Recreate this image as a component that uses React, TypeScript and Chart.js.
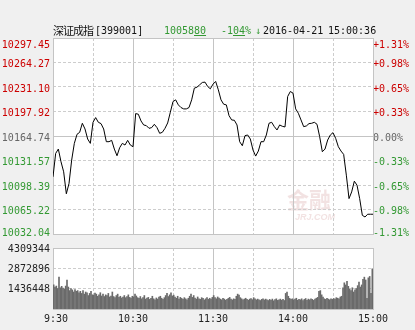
import React, { useEffect, useRef } from 'react';
import { Chart, registerables } from 'chart.js';

Chart.register(...registerables);

// ---------- data ----------
const PREV_CLOSE = 10164.74;
const PRICE_STEP_MIN = 2; // one price sample every 2 minutes, 9:30 .. 15:00 (240 trading minutes)

const priceTicks = [10032.04, 10065.22, 10098.39, 10131.57, 10164.74, 10197.92, 10231.10, 10264.27, 10297.45];
const priceTickLabels = ['10032.04', '10065.22', '10098.39', '10131.57', '10164.74', '10197.92', '10231.10', '10264.27', '10297.45'];
const pctTickLabels = ['-1.31%', '-0.98%', '-0.65%', '-0.33%', '0.00%', '+0.33%', '+0.65%', '+0.98%', '+1.31%'];

const timeTickMinutes = [0, 60, 120, 180, 240];
const timeTickLabels = [' 9:30', '10:30', '11:30', '14:00', '15:00'];

const volTicks = [1436448, 2872896, 4309344];
const volTickLabels = ['1436448', '2872896', '4309344'];

const prices = [
  10109.45, 10141.17, 10147.07, 10129.84, 10116.25, 10086.50, 10100.39, 10132.11, 10154.77, 10167.01,
  10169.73, 10181.96, 10174.26, 10160.66, 10154.77, 10183.32, 10189.67, 10183.32, 10181.51, 10174.26,
  10157.04, 10157.04, 10158.85, 10147.07, 10138.00, 10148.88, 10154.77, 10152.50, 10158.85, 10152.50,
  10150.24, 10195.10, 10194.20, 10185.13, 10179.70, 10178.79, 10175.16, 10176.07, 10180.60, 10176.07,
  10168.37, 10169.73, 10175.16, 10182.41, 10196.92, 10211.42, 10213.69, 10206.89, 10203.26, 10201.45,
  10201.45, 10203.26, 10213.69, 10229.55, 10230.91, 10234.08, 10237.25, 10237.71, 10231.81, 10228.64,
  10234.99, 10238.61, 10227.28, 10213.69, 10207.79, 10206.89, 10192.39, 10186.49, 10186.04, 10179.70,
  10157.04, 10151.60, 10165.19, 10166.10, 10160.66, 10145.71, 10137.55, 10144.35, 10157.04, 10157.04,
  10166.10, 10181.96, 10183.32, 10177.43, 10172.90, 10179.70, 10177.88, 10176.98, 10218.22, 10225.02,
  10222.75, 10201.45, 10195.56, 10186.49, 10177.43, 10178.34, 10181.51, 10181.96, 10183.32, 10180.60,
  10163.83, 10143.44, 10147.07, 10159.30, 10166.10, 10169.27, 10161.57, 10150.24, 10144.35, 10139.81,
  10111.72, 10079.99, 10089.06, 10103.56, 10098.12, 10079.99, 10057.33, 10055.07, 10058.80, 10058.80,
  10058.80,
];

const volumes = [
  1700000, 1550000, 1620000, 1450000, 2250000, 1500000, 1600000, 1480000, 1400000, 1620000,
  2050000, 1550000, 1300000, 1450000, 1350000, 1200000, 1380000, 1250000, 1300000, 1150000,
  1250000, 1100000, 1300000, 1050000, 1200000, 1150000, 950000, 1100000, 1250000, 1000000,
  980000, 1120000, 1050000, 900000, 1000000, 1150000, 920000, 1050000, 880000, 1000000,
  950000, 1100000, 850000, 920000, 1200000, 880000, 800000, 950000, 1050000, 820000,
  900000, 780000, 850000, 950000, 800000, 880000, 1000000, 820000, 780000, 900000,
  850000, 1050000, 920000, 800000, 760000, 880000, 720000, 800000, 950000, 700000,
  780000, 820000, 680000, 750000, 900000, 720000, 650000, 780000, 700000, 850000,
  900000, 760000, 680000, 800000, 950000, 1100000, 880000, 1000000, 1150000, 920000,
  980000, 850000, 760000, 900000, 700000, 820000, 750000, 680000, 800000, 720000,
  650000, 760000, 900000, 1050000, 820000, 950000, 780000, 700000, 850000, 720000,
  680000, 800000, 750000, 640000, 720000, 800000, 680000, 760000, 700000, 820000,
  950000, 800000, 720000, 850000, 780000, 700000, 650000, 760000, 700000, 620000,
  680000, 750000, 820000, 700000, 640000, 720000, 680000, 900000, 1050000, 980000,
  800000, 720000, 650000, 700000, 760000, 680000, 620000, 700000, 740000, 660000,
  800000, 720000, 640000, 700000, 650000, 600000, 680000, 720000, 640000, 700000,
  640000, 600000, 680000, 620000, 700000, 580000, 660000, 720000, 610000, 650000,
  700000, 620000, 680000, 600000, 1100000, 1200000, 900000, 750000, 680000, 720000,
  640000, 700000, 760000, 620000, 680000, 650000, 720000, 600000, 680000, 740000,
  620000, 700000, 650000, 720000, 680000, 610000, 700000, 760000, 820000, 1250000,
  1300000, 1000000, 850000, 720000, 680000, 760000, 700000, 650000, 720000, 680000,
  740000, 700000, 800000, 760000, 720000, 850000, 900000, 1500000, 1850000, 1700000,
  1950000, 1600000, 1400000, 1300000, 1500000, 1200000, 1350000, 1450000, 1650000, 1900000,
  1550000, 1700000, 2100000, 2250000, 2050000, 750000, 2200000, 2300000, 1100000, 2830000,
];

// header texts
const INDEX_NAME = '深证成指';
const INDEX_CODE = '[399001]';
const LAST_INT = '10058';
const LAST_DEC = '80';
const CHG_INT = '-1';
const CHG_DEC = '04';
const CHG_UNIT = '%';
const ARROW = '↓';
const DATE_TEXT = '2016-04-21';
const TIME_TEXT = '15:00:36';
const WATERMARK = '金融';
const WATERMARK_SUB = 'JRJ.COM';

// ---------- styles ----------
const BG = '#f0f0f0';
const PLOT_BG = '#ffffff';
const RED = '#cc0000';
const GREEN = '#339933';
const GRAY = '#666666';
const GRID_SOLID = '#c4c4c4';
const GRID_DASH = '#cdcdcd';
const FONT = '"DejaVu Sans Mono", monospace';
const CJK = '"Noto Sans CJK SC", sans-serif';
const TOTAL_MIN = 240;

const drawGrid = (chart: any, xVals: number[], yVals: number[], ySolid: (v: number) => boolean) => {
  const { ctx, chartArea: a, scales } = chart;
  const xs = scales.x;
  const ys = scales.y;
  ctx.save();
  ctx.lineWidth = 1;
  xVals.forEach((m) => {
    const px = Math.floor(xs.getPixelForValue(m)) + 0.5;
    const solid = m % 60 === 0;
    ctx.strokeStyle = solid ? GRID_SOLID : GRID_DASH;
    ctx.setLineDash(solid ? [] : [3, 2]);
    ctx.beginPath();
    ctx.moveTo(px, a.top);
    ctx.lineTo(px, a.bottom);
    ctx.stroke();
  });
  yVals.forEach((v) => {
    const py = Math.floor(ys.getPixelForValue(v)) + 0.5;
    const solid = ySolid(v);
    ctx.strokeStyle = solid ? GRID_SOLID : GRID_DASH;
    ctx.setLineDash(solid ? [] : [3, 2]);
    ctx.beginPath();
    ctx.moveTo(a.left, py);
    ctx.lineTo(a.right, py);
    ctx.stroke();
  });
  ctx.setLineDash([]);
  ctx.strokeStyle = GRID_SOLID;
  ctx.strokeRect(a.left + 0.5, a.top + 0.5, a.right - a.left, a.bottom - a.top);
  ctx.restore();
};

const plotBgPlugin = {
  id: 'plotBg',
  beforeDraw(chart: any) {
    const { ctx, chartArea: a } = chart;
    ctx.save();
    ctx.fillStyle = PLOT_BG;
    ctx.fillRect(a.left, a.top, a.right - a.left, a.bottom - a.top);
    ctx.restore();
  },
};

const priceGridPlugin = {
  id: 'priceGrid',
  beforeDatasetsDraw(chart: any) {
    const { ctx, chartArea: a } = chart;
    ctx.save();
    ctx.fillStyle = 'rgba(210,150,150,0.28)';
    ctx.font = `bold 22px ${CJK}`;
    ctx.textBaseline = 'alphabetic';
    ctx.fillText(WATERMARK, a.left + 234, a.top + 170);
    ctx.font = `bold italic 9px "Liberation Sans", sans-serif`;
    ctx.fillText(WATERMARK_SUB, a.left + 242, a.top + 182);
    ctx.restore();
    drawGrid(chart, [30, 60, 90, 120, 150, 180, 210], priceTicks.slice(1, -1), (v) => v === PREV_CLOSE);
  },
};

const volGridPlugin = {
  id: 'volGrid',
  beforeDatasetsDraw(chart: any) {
    drawGrid(chart, [30, 60, 90, 120, 150, 180, 210], volTicks.slice(0, -1), () => false);
  },
};

const tickColor = (v: number) => (v > PREV_CLOSE + 0.001 ? RED : v < PREV_CLOSE - 0.001 ? GREEN : GRAY);

// keep the outermost labels inside the plot, like the original terminal does
const fixV = (w: number, shiftEnds: boolean) => (s: any) => {
  s.width = w;
  s.paddingTop = 0;
  s.paddingBottom = 0;
  if (shiftEnds && !s.__wrapped) {
    s.__wrapped = true;
    const orig = s._computeLabelItems;
    s._computeLabelItems = function (ca: any) {
      const items = orig.call(this, ca);
      if (items && items.length > 1) {
        const last = items[items.length - 1];
        const first = items[0];
        if (last.options && last.options.translation) last.options.translation[1] += 5;
        if (first.options && first.options.translation) first.options.translation[1] -= 3;
      }
      return items;
    };
  }
};

export default function App() {
  const priceRef = useRef<HTMLCanvasElement | null>(null);
  const volRef = useRef<HTMLCanvasElement | null>(null);

  useEffect(() => {
    if (!priceRef.current || !volRef.current) return;
    const priceChart = new Chart(priceRef.current, {
      type: 'line',
      data: {
        datasets: [
          {
            data: prices.map((p, i) => ({ x: i * PRICE_STEP_MIN, y: p })),
            borderColor: '#000000',
            borderWidth: 1,
            pointRadius: 0,
            tension: 0,
            yAxisID: 'y',
          },
        ],
      },
      options: {
        responsive: false,
        animation: false,
        devicePixelRatio: 1,
        layout: { padding: { top: 38, bottom: 6, left: 0, right: 0 } },
        plugins: { legend: { display: false }, tooltip: { enabled: false } },
        scales: {
          x: { type: 'linear', min: 0, max: TOTAL_MIN, display: false },
          y: {
            position: 'left',
            min: priceTicks[0],
            max: priceTicks[priceTicks.length - 1],
            afterBuildTicks: (s: any) => { s.ticks = priceTicks.map((v) => ({ value: v })); },
            afterFit: fixV(53, true),
            grid: { display: false, drawTicks: false },
            border: { display: false },
            ticks: {
              padding: 3,
              labelOffset: 2,
              font: { family: FONT, size: 10 },
              color: (c: any) => tickColor(c.tick.value),
              callback: (_v: any, i: number) => priceTickLabels[i],
            },
          },
          y2: {
            position: 'right',
            min: priceTicks[0],
            max: priceTicks[priceTicks.length - 1],
            afterBuildTicks: (s: any) => { s.ticks = priceTicks.map((v) => ({ value: v })); },
            afterFit: fixV(42, true),
            grid: { display: false, drawTicks: false },
            border: { display: false },
            ticks: {
              padding: 0,
              labelOffset: 2,
              font: { family: FONT, size: 10 },
              color: (c: any) => tickColor(c.tick.value),
              callback: (_v: any, i: number) => pctTickLabels[i],
            },
          },
        },
      },
      plugins: [plotBgPlugin, priceGridPlugin],
    } as any);

    const volChart = new Chart(volRef.current, {
      type: 'bar',
      data: {
        datasets: [
          {
            data: volumes.map((v, i) => ({ x: i + 0.5, y: v })),
            backgroundColor: '#6a6a6a',
            barThickness: 1,
            grouped: false,
          },
        ],
      },
      options: {
        responsive: false,
        animation: false,
        devicePixelRatio: 1,
        layout: { padding: { top: 8, bottom: 0, left: 0, right: 42 } },
        plugins: { legend: { display: false }, tooltip: { enabled: false } },
        scales: {
          x: {
            type: 'linear',
            min: 0,
            max: TOTAL_MIN,
            offset: false,
            afterBuildTicks: (s: any) => { s.ticks = timeTickMinutes.map((v) => ({ value: v })); },
            afterFit: (s: any) => { s.height = 21; s.paddingLeft = 0; s.paddingRight = 0; },
            grid: { display: false, drawTicks: false },
            border: { display: false },
            ticks: {
              padding: 4,
              maxRotation: 0,
              autoSkip: false,
              font: { family: FONT, size: 10 },
              color: '#222222',
              callback: (_v: any, i: number) => timeTickLabels[i],
            },
          },
          y: {
            position: 'left',
            min: 0,
            max: volTicks[volTicks.length - 1],
            afterBuildTicks: (s: any) => { s.ticks = volTicks.map((v) => ({ value: v })); },
            afterFit: fixV(53, false),
            grid: { display: false, drawTicks: false },
            border: { display: false },
            ticks: {
              padding: 3,
              labelOffset: 1,
              font: { family: FONT, size: 10 },
              color: '#222222',
              callback: (_v: any, i: number) => volTickLabels[i],
            },
          },
        },
      },
      plugins: [plotBgPlugin, volGridPlugin],
    } as any);

    return () => {
      priceChart.destroy();
      volChart.destroy();
    };
  }, []);

  const txt = (left: number, color: string, content: string, extra: React.CSSProperties = {}) => (
    <span
      style={{
        position: 'absolute',
        left,
        top: 25,
        fontFamily: FONT,
        fontSize: 10,
        lineHeight: '12px',
        color,
        whiteSpace: 'pre',
        ...extra,
      }}
    >
      {content}
    </span>
  );

  return (
    <div style={{ position: 'absolute', left: 0, top: 0, width: 415, height: 330, background: BG, overflow: 'hidden' }}>
      <canvas ref={priceRef} width={415} height={240} style={{ position: 'absolute', left: 0, top: 0, display: 'block' }} />
      <canvas ref={volRef} width={415} height={90} style={{ position: 'absolute', left: 0, top: 240, display: 'block' }} />
      {txt(53, '#111111', INDEX_NAME, { fontFamily: CJK, fontSize: 11, letterSpacing: '-1px', top: 24 })}
      {txt(95, '#111111', INDEX_CODE)}
      {txt(164, GREEN, LAST_INT)}
      {txt(194, GREEN, LAST_DEC, { textDecoration: 'underline' })}
      {txt(221, GREEN, CHG_INT)}
      {txt(233, GREEN, CHG_DEC, { textDecoration: 'underline' })}
      {txt(245, GREEN, CHG_UNIT)}
      {txt(255, GREEN, ARROW)}
      {txt(263, '#111111', DATE_TEXT)}
      {txt(328, '#111111', TIME_TEXT)}
    </div>
  );
}
